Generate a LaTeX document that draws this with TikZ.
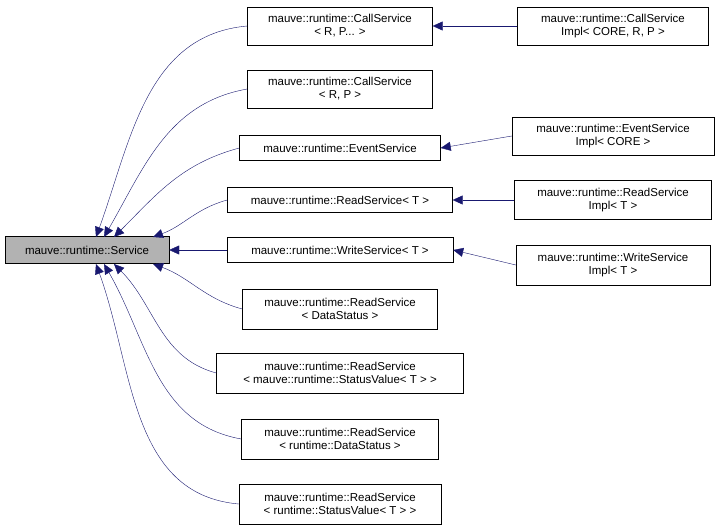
\documentclass[tikz,border=0pt]{standalone}
\usepackage{fontspec}
\setmainfont{Liberation Sans}
\usetikzlibrary{arrows.meta}
\definecolor{navyedge}{RGB}{25,25,112}
\tikzset{
  cls/.style = {
    draw, fill=white, align=center, inner sep=2pt,
    font=\fontsize{11.5}{13}\selectfont, minimum height=25pt
  },
  edge/.style = {
    draw=navyedge, -{Triangle[navyedge, length=10pt, width=9pt]}
  }
}
\begin{document}
\begin{tikzpicture}[x=1pt, y=-1pt]
    \useasboundingbox (0,0) rectangle (716,532);
    % les classes
    \node[cls, fill=gray!60, minimum width=164pt, minimum height=27pt] (svc) at (87,250) {mauve::runtime::Service};
    \node[cls, minimum width=185pt, minimum height=38pt] (callA) at (340,26) {mauve::runtime::CallService\\< R, P... >};
    \node[cls, minimum width=185pt, minimum height=38pt] (callB) at (340,89) {mauve::runtime::CallService\\< R, P >};
    \node[cls, minimum width=201pt] (event) at (340,148) {mauve::runtime::EventService};
    \node[cls, minimum width=225pt] (readT) at (340,200) {mauve::runtime::ReadService< T >};
    \node[cls, minimum width=226pt] (writeT) at (340,250) {mauve::runtime::WriteService< T >};
    \node[cls, minimum width=195pt, minimum height=40pt] (readDS) at (340,309) {mauve::runtime::ReadService\\< DataStatus >};
    \node[cls, minimum width=247pt, minimum height=40pt] (readSV) at (340,373) {mauve::runtime::ReadService\\< mauve::runtime::StatusValue< T > >};
    \node[cls, minimum width=197pt, minimum height=40pt] (readRDS) at (340,439) {mauve::runtime::ReadService\\< runtime::DataStatus >};
    \node[cls, minimum width=202pt, minimum height=40pt] (readRSV) at (340,504) {mauve::runtime::ReadService\\< runtime::StatusValue< T > >};
    \node[cls, minimum width=191pt, minimum height=38pt] (callImpl) at (613,26) {mauve::runtime::CallService\\Impl< CORE, R, P >};
    \node[cls, minimum width=202pt, minimum height=38pt] (eventImpl) at (613,136) {mauve::runtime::EventService\\Impl< CORE >};
    \node[cls, minimum width=197pt, minimum height=39pt] (readImpl) at (613,200) {mauve::runtime::ReadService\\Impl< T >};
    \node[cls, minimum width=194pt, minimum height=40pt] (writeImpl) at (613,265) {mauve::runtime::WriteService\\Impl< T >};
    % les heritages
    \path
      (callA.west)   edge[edge, out=185, in=70] (96,237)
      (callB.west)   edge[edge, out=190, in=60] (104,237)
      (event.west)   edge[edge, out=195, in=45] (114,237)
      (readT.west)   edge[edge, out=195, in=20] (153,237)
      (writeT.west)  edge[edge] (svc.east)
      (readDS.west)  edge[edge, out=165, in=-20] (153,264)
      (readSV.west)  edge[edge, out=165, in=-45] (114,264)
      (readRDS.west) edge[edge, out=170, in=-60] (104,264)
      (readRSV.west) edge[edge, out=175, in=-70] (96,264)
      (callImpl.west)  edge[edge] (callA.east)
      (eventImpl.west) edge[edge] (event.east)
      (readImpl.west)  edge[edge] (readT.east)
      (writeImpl.west) edge[edge] (writeT.east)
    ;
\end{tikzpicture}
\end{document}
